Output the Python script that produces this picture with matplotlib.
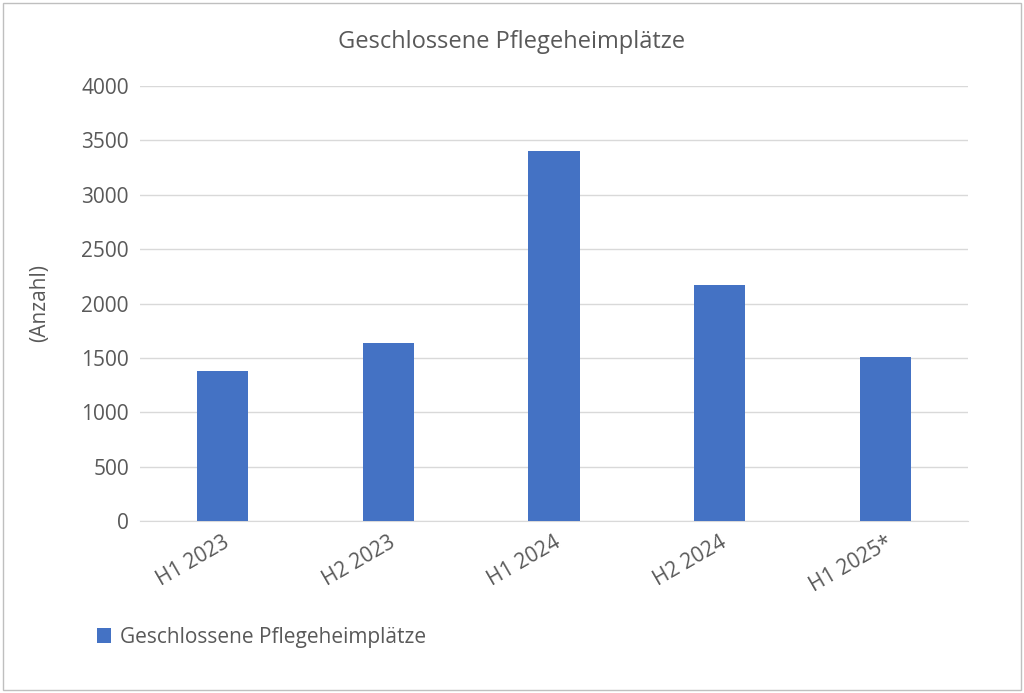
import matplotlib.pyplot as plt
from matplotlib.patches import Rectangle

plt.rcParams['font.family'] = ['Open Sans', 'DejaVu Sans']

# Daten
kategorien = ['H1 2023', 'H2 2023', 'H1 2024', 'H2 2024', 'H1 2025*']
werte = [1380, 1640, 3405, 2172, 1508]
farbe = '#4472C4'
text_grau = '#595959'

fig = plt.figure(figsize=(10.24, 6.93), dpi=100)
ax = fig.add_axes([140/1024, 1 - 521/693, 828/1024, 435/693])

ax.bar(range(len(kategorien)), werte, width=0.31, color=farbe,
       label='Geschlossene Pflegeheimplätze', zorder=3)
ax.set_xlim(-0.5, len(kategorien) - 0.5)
ax.set_ylim(0, 4000)
ax.set_yticks(range(0, 4001, 500))
ax.grid(axis='y', color='#D9D9D9', linewidth=1, zorder=0)
for s in ['top', 'right', 'left']:
    ax.spines[s].set_visible(False)
ax.spines['bottom'].set_color('#D9D9D9')
ax.tick_params(axis='both', length=0, labelsize=15, colors=text_grau, pad=8)
ax.set_xticks(range(len(kategorien)))
ax.set_xticklabels(kategorien, rotation=30, ha='right', rotation_mode='anchor')
ax.set_ylabel('(Anzahl)', fontsize=15, color=text_grau, labelpad=22)

fig.text(0.5, 1 - 42/693, 'Geschlossene Pflegeheimplätze', ha='center', va='center',
         fontsize=17, color=text_grau)
ax.legend(loc='upper left', bbox_to_anchor=(-0.075, -0.2), frameon=False,
          fontsize=15, labelcolor=text_grau, handlelength=0.7, handleheight=0.7,
          handletextpad=0.4)

fig.patches.append(Rectangle((0.003, 0.004), 0.994, 0.992, transform=fig.transFigure,
                             fill=False, edgecolor='#BFBFBF', linewidth=1))

fig.savefig('out.png', dpi=100)
